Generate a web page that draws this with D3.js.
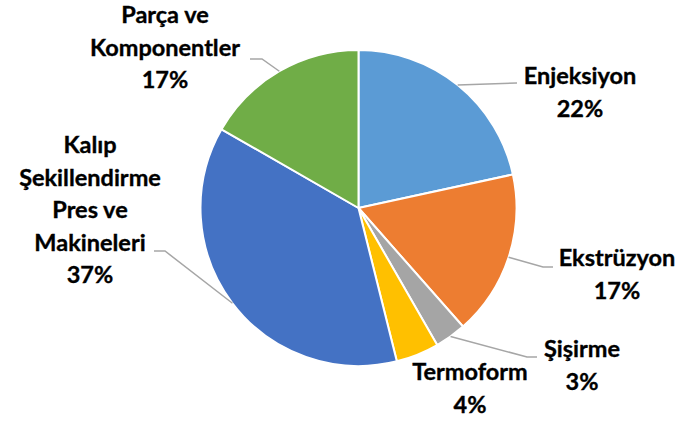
<!DOCTYPE html>
<html>
<head>
<meta charset="utf-8">
<script src="https://cdn.jsdelivr.net/npm/d3@7"></script>
<style>
  html, body { margin: 0; padding: 0; background: #fff; }
  svg { display: block; }
  text { font-family: Lato, "Open Sans", sans-serif; font-weight: 700; fill: #000; }
</style>
</head>
<body>
<svg id="chart" width="680" height="421"></svg>
<script>
// ---- data ----
const categories = ["Enjeksiyon", "Ekstrüzyon", "Şişirme", "Termoform",
  "Kalıp Şekillendirme Pres ve Makineleri", "Parça ve Komponentler"];
const shares = [21.6, 16.9, 3.2, 4.4, 37.2, 16.7];
const labelLines = [
  ["Enjeksiyon"],
  ["Ekstrüzyon"],
  ["Şişirme"],
  ["Termoform"],
  ["Kalıp", "Şekillendirme", "Pres ve", "Makineleri"],
  ["Parça ve", "Komponentler"]
];
const colors = ["#5B9BD5", "#ED7D31", "#A5A5A5", "#FFC000", "#4472C4", "#70AD47"];

// ---- layout (label placement, not data) ----
const cx = 358.5, cy = 208, radius = 158;
const lineH = 32.5;
const labelLayout = [
  { x: 580, y: 84,  leader: [[517, 83]] },
  { x: 617, y: 266, leader: [[543, 267], [553, 267]] },
  { x: 582, y: 357, leader: [[527, 357], [537, 357]] },
  { x: 470, y: 380, leader: null },
  { x: 90,  y: 153, leader: [[165, 251], [154, 251]] },
  { x: 165, y: 23,  leader: [[262, 59], [250, 59]] }
];

const svg = d3.select("#chart");
const g = svg.append("g").attr("transform", `translate(${cx},${cy})`);

const total = d3.sum(shares);
const pct = d3.format(".0%");
const data = categories.map((c, i) => ({ name: c, value: shares[i], i }));

const pie = d3.pie().value(d => d.value).sort(null).startAngle(0).endAngle(2 * Math.PI);
const arcs = pie(data);
const arc = d3.arc().innerRadius(0).outerRadius(radius);

g.selectAll("path.slice")
  .data(arcs)
  .join("path")
  .attr("class", "slice")
  .attr("d", arc)
  .attr("fill", d => colors[d.data.i])
  .attr("stroke", "#fff")
  .attr("stroke-width", 2)
  .attr("stroke-linejoin", "round");

// leader lines
const line = d3.line();
arcs.forEach(d => {
  const L = labelLayout[d.data.i];
  if (!L.leader) return;
  const mid = (d.startAngle + d.endAngle) / 2;
  const start = [cx + radius * Math.sin(mid), cy - radius * Math.cos(mid)];
  svg.append("path")
    .attr("d", line([start, ...L.leader]))
    .attr("fill", "none")
    .attr("stroke", "#A6A6A6")
    .attr("stroke-width", 1.5);
});

// labels
arcs.forEach(d => {
  const L = labelLayout[d.data.i];
  const lines = labelLines[d.data.i].concat([pct(d.data.value / total)]);
  const t = svg.append("text")
    .attr("text-anchor", "middle")
    .attr("font-size", 23.5)
    .attr("stroke", "#000")
    .attr("stroke-width", 0.35);
  lines.forEach((s, k) => {
    t.append("tspan").attr("x", L.x).attr("y", L.y + k * lineH).text(s);
  });
});
</script>
</body>
</html>
